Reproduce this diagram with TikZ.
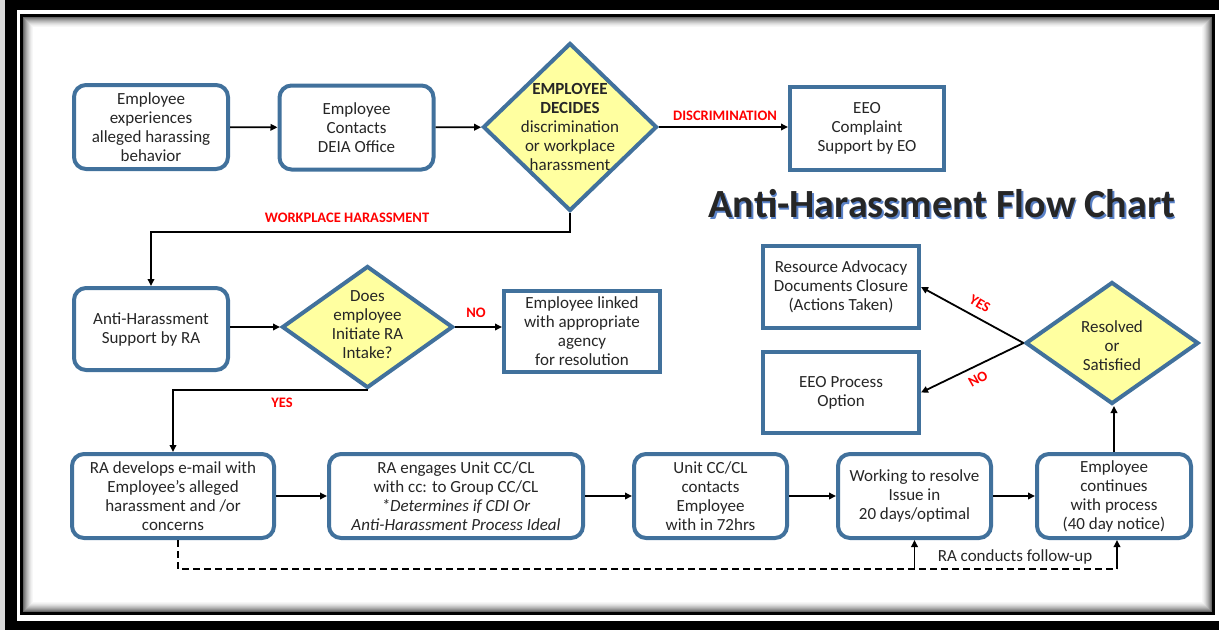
\documentclass[tikz,border=0pt]{standalone}
\usepackage{fontspec}
\setmainfont{Carlito}
\usetikzlibrary{shapes.geometric,arrows.meta,calc}
\definecolor{boxblue}{RGB}{65,113,156}
\definecolor{diayellow}{RGB}{255,255,160}
\definecolor{txt}{RGB}{38,38,38}
\definecolor{lblred}{RGB}{255,0,0}
\definecolor{titleblue}{RGB}{90,130,200}
\begin{document}
\begin{tikzpicture}[x=1pt,y=-1pt,
  body/.style={font=\fontsize{17}{19}\selectfont, text=txt, align=center},
  rbox/.style={body, draw=boxblue, line width=4pt, rounded corners=12pt, minimum width=154pt, minimum height=84pt, inner sep=2pt, fill=white},
  sbox/.style={body, draw=boxblue, line width=4pt, minimum width=156pt, minimum height=82pt, inner sep=2pt, fill=white},
  dia/.style={diamond, draw=boxblue, fill=diayellow, line width=4pt, inner sep=0pt},
  ditext/.style={body},
  arr/.style={line width=1.8pt, black, -{Triangle[length=7pt,width=6.5pt]}},
  lbl/.style={font=\bfseries\fontsize{14.5}{16}\selectfont, text=lblred, inner sep=1pt}
]
\useasboundingbox (0,0) rectangle (1219,630);
% frame
\fill[black!15] (0,0) rectangle (5,630);
\fill[black] (5,0) rectangle (1219,10);
\fill[black] (5,0) rectangle (17,630);
\fill[black] (5,621) rectangle (1219,630);
\foreach \i/\c in {0/60,1/50,2/42,3/34,4/27,5/21,6/15,7/10,8/6,9/3}{
  \draw[line width=1pt, black!\c] (23.5+\i,17.5+\i) rectangle (1211.5-\i,611.5-\i);
}
\draw[line width=3pt, black] (21.5,15.5) rectangle (1213.5,613.5);

% row 1
\node[rbox] (b1) at (151,127) {Employee\\experiences\\alleged harassing\\behavior};
\node[rbox] (b2) at (356.5,127.5) {Employee\\Contacts\\DEIA Office};
\node[dia, minimum width=174pt, minimum height=168pt] (d1) at (570,127) {};
\node[ditext] (d1t) at (d1) {\textbf{EMPLOYEE}\\\textbf{DECIDES}\\discrimination\\or workplace\\harassment};
\node[sbox, minimum width=154pt, minimum height=83pt] (eeo) at (867,128.5) {EEO\\Complaint\\Support by EO};

% title
\node[font=\bfseries\fontsize{40}{44}\selectfont, text=titleblue] (titlesh) at (943.5,205.5) {Anti-Harassment Flow Chart};
\node[font=\bfseries\fontsize{40}{44}\selectfont, text=txt] (title) at (942,204) {Anti-Harassment Flow Chart};

% row 2
\node[rbox, minimum height=82pt] (b3) at (151,329) {Anti-Harassment\\Support by RA};
\node[dia, minimum width=171pt, minimum height=122pt] (d2) at (367.5,327) {};
\node[ditext] (d2t) at (367.5,324.5) {Does\\employee\\Initiate RA\\Intake?};
\node[sbox, minimum height=81pt] (lnk) at (582,331.5) {Employee linked\\with appropriate\\agency\\for resolution};

% right side
\node[sbox] (rad) at (841,287) {Resource Advocacy\\Documents Closure\\(Actions Taken)};
\node[sbox, minimum height=81pt] (eeop) at (841,392.5) {EEO Process\\Option};
\node[dia, minimum width=173pt, minimum height=122pt] (d3) at (1112,343) {};
\node[ditext] (d3t) at (1112,346) {Resolved\\or\\Satisfied};

% row 3
\node[rbox, minimum width=202pt] (b4) at (173,496) {RA develops e-mail with\\Employee’s alleged\\harassment and /or\\concerns};
\node[rbox, minimum width=254pt] (b5) at (456,496) {RA engages Unit CC/CL\\with cc: to Group CC/CL\\\textit{*Determines if CDI Or}\\\textit{Anti-Harassment Process Ideal}};
\node[rbox, minimum width=153pt] (b6) at (710.5,496) {Unit CC/CL\\contacts\\Employee\\with in 72hrs};
\node[rbox, minimum width=153pt] (b7) at (914.5,496) {Working to resolve\\Issue in\\20 days/optimal};
\node[rbox] (b8) at (1114,496) {Employee\\continues\\with process\\(40 day notice)};

% connectors
\draw[arr] (b1) -- (b2);
\draw[arr] (b2) -- (d1);
\draw[arr] (d1.east) -- (d1.east -| eeo.west);
\node[lbl] (lDisc) at (725,116) {DISCRIMINATION};

\coordinate (c1) at (360,232);
\draw[arr] (d1.south) |- (c1) -| (b3.north);
\node[lbl] (lWork) at (347,218) {WORKPLACE HARASSMENT};

\draw[arr] (b3.east |- d2.west) -- (d2.west);
\draw[arr] (d2.east) -- (d2.east -| lnk.west);
\node[lbl] (lNo1) at (476,313) {NO};
\draw[arr] (d2.south) -| (b4.north);
\node[lbl] (lYes1) at (282,403) {YES};

\draw[arr] (b4) -- (b5);
\draw[arr] (b5) -- (b6);
\draw[arr] (b6) -- (b7);
\draw[arr] (b7) -- (b8);
\draw[arr] (b8.north) -- (b8.north |- d3.south);

\draw[arr] (d3.west) -- (rad.east);
\draw[arr] (d3.west) -- (eeop.east);
\node[lbl, rotate=-30] (lYes2) at (980,304) {YES};
\node[lbl, rotate=30] (lNo2) at (978,379) {NO};

\coordinate (fL) at (178,569);
\coordinate (fR) at (1117,569);
\draw[line width=1.8pt, dash pattern=on 7pt off 4pt] (fL |- b4.south) -- (fL) -- (fR);
\draw[arr] (fR) -- (fR |- b8.south);
\draw[arr] (b7.south |- fL) -- (b7.south);
\node[body] (lFollow) at (1015,557) {RA conducts follow-up};
\end{tikzpicture}
\end{document}
